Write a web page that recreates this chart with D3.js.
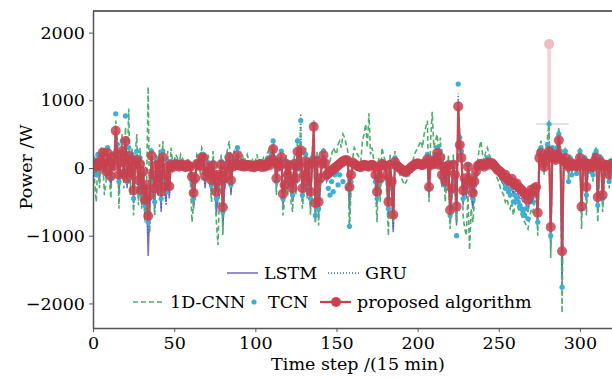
<!DOCTYPE html>
<html>
<head>
<meta charset="utf-8">
<script src="https://cdn.jsdelivr.net/npm/d3@7"></script>
<style>
  body { margin: 0; background: #fff; }
  svg { display: block; font-family: "DejaVu Serif", serif; }
</style>
</head>
<body>
<div class="chart"></div>
<script>
// time steps 0..320 (15 min each)
const proposed = [
  60, 40, 20, 80, 30, 120, 230, 60, -50, 220,
  90, -120, 150, 30, 550, 200, -100, 80, 250, -80,
  400, -150, 180, -60, 100, -330, 50, 120, -180, 60,
  -330, -50, -470, -250, -710, -400, 180, -100, -300, 40,
  -200, 60, -350, 160, -100, -270, 20, -270, 50, 10,
  30, 60, 40, 20, 50, 40, 30, 10, 50, 30,
  20, -130, -370, -150, 60, 40, 30, 150, 150, -120,
  -50, 20, -80, -180, 40, -100, -350, -200, -100, 50,
  -580, -150, -50, 30, 160, -180, 20, 60, 40, 190,
  40, 30, 60, 20, 30, 50, 40, 20, 30, 10,
  20, 50, 30, 60, 10, 40, 20, 50, 80, 40,
  120, 280, 90, -150, 60, 30, 160, -380, -250, 60,
  -100, 30, -200, -300, 60, -150, 240, 30, 260, -300,
  -100, 100, -200, 40, -350, 80, 610, -520, 100, -500,
  -150, 60, 190, 70, -100, -80, -60, -40, -20, 0,
  20, 40, 60, 80, 100, 110, 120, 100, -280, -100,
  80, 60, 40, 30, 20, 10, 30, 50, 40, 30,
  20, 40, 50, 30, -100, -350, 20, -150, 60, 40,
  30, -100, -500, 50, -200, -690, 90, 40, 20, 0,
  -20, -40, -60, -50, -30, -10, 10, 30, 50, 60,
  70, 60, 50, 40, 60, 80, 130, -280, 40, 90,
  60, 120, 220, 50, 160, -100, 20, -200, -50, 40,
  -620, -300, 50, -100, -570, 910, 340, 150, -330, -150,
  -250, 20, -150, -200, -370, -200, -50, 30, 50, 60,
  40, 20, 60, 80, 50, 70, 70, 40, 10, -20,
  -40, -60, -80, -130, -100, -150, -180, -200, -160, -220,
  -250, -230, -280, -300, -320, -350, -380, -400, -470, -380,
  -320, -350, -300, -280, -660, 150, 220, 80, 15, 100,
  200, 250, -870, 180, 150, 120, 200, 410, 150, -1230,
  100, 150, 60, 20, 80, 30, 50, 40, 20, 60,
  150, -570, 30, 80, -280, 60, 20, 40, 10, 100,
  150, -430, 40, 80, -400, 20, 50, 30, -100, 60, 20
];

const lstm = [
  80, 20, -100, 60, -200, 150, 200, 50, -150, 180,
  50, -300, 100, -50, 500, 250, -350, 30, 300, -200,
  350, -300, 100, -150, 50, -500, 0, 100, -450, 20,
  -550, -200, -700, -400, -1300, -600, 100, -300, -600, -50,
  -400, 30, -650, 100, -300, -500, 0, -450, 20, -50,
  20, 50, 30, -20, 40, 20, 10, -30, 40, 20,
  -50, -300, -600, -250, 30, 20, -50, 120, 100, -300,
  -100, 0, -200, -400, 20, -250, -700, -400, -200, 30,
  -900, -350, -150, 20, 100, -400, -20, 50, 20, 150,
  20, 10, 50, 0, 20, 40, 20, 0, 20, -20,
  0, 40, 10, 50, -20, 30, 0, 40, 60, 20,
  100, 250, 50, -300, 40, -50, 120, -550, -400, 30,
  -250, 0, -350, -500, 40, -300, 200, -50, 300, -500,
  -250, 50, -400, 20, -600, 50, 500, -800, 50, -700,
  -300, 20, 150, 30, -200, -150, -100, -80, -50, -30,
  0, 20, 40, 50, 80, 90, 100, 60, -600, -200,
  50, 40, 20, 10, 0, -10, 20, 40, 30, 20,
  0, 30, 40, 10, -250, -550, 0, -300, 40, 20,
  10, -250, -750, 30, -400, -950, 60, 20, 0, -20,
  -50, -70, -100, -80, -60, -30, 0, 20, 40, 50,
  60, 40, 30, 20, 40, 60, 100, -450, 20, 70,
  40, 100, 200, 20, 120, -250, 0, -350, -150, 20,
  -800, -450, 30, -250, -850, 1000, 300, 100, -550, -300,
  -450, 0, -300, -400, -600, -350, -150, 0, 30, 40,
  20, 0, 40, 60, 30, 50, 50, 20, -20, -50,
  -80, -150, -200, -250, -200, -280, -300, -350, -300, -400,
  -350, -300, -400, -450, -450, -500, -500, -550, -650, -500,
  -450, -500, -400, -350, -800, 100, 250, 50, -50, 80,
  250, 300, -1200, 150, 100, 80, 180, 450, 100, -1700,
  50, 150, 20, -100, 60, -50, 30, 20, -50, 40,
  120, -700, 0, 60, -500, 40, -50, 20, -80, 80,
  100, -650, 20, 60, -550, -100, 30, 10, -200, 40, 0
];

const gru = [
  40, 100, -50, 120, -100, 200, 280, 20, -100, 250,
  100, -250, 200, 0, 600, 300, -300, 100, 350, -150,
  450, -250, 250, -100, 150, -600, 80, 200, -400, 100,
  -500, -150, -800, -350, -1000, -550, 200, -250, -700, 50,
  -350, 100, -600, 200, -250, -550, 50, -400, 80, 0,
  40, 80, 60, 0, 60, 50, 30, -20, 60, 40,
  0, -250, -550, -300, 80, 50, 0, 200, 180, -250,
  -80, 40, -150, -350, 60, -200, -600, -450, -250, 60,
  -800, -300, -100, 50, 200, -350, 30, 100, 60, 220,
  50, 40, 80, 30, 40, 60, 50, 20, 40, 0,
  30, 60, 40, 80, 0, 50, 20, 60, 100, 50,
  150, 350, 100, -250, 80, 0, 200, -500, -350, 80,
  -200, 50, -300, -450, 80, -250, 350, 0, 800, -450,
  -200, 150, -350, 60, -550, 120, 700, -750, 150, -650,
  -250, 80, 250, 60, -150, -120, -80, -60, -40, -20,
  10, 30, 50, 70, 90, 100, 110, 80, -850, -150,
  60, 50, 30, 20, 10, 0, 30, 60, 50, 40,
  10, 40, 60, 20, -200, -500, 30, -250, 80, 30,
  20, -200, -700, 60, -350, -900, 120, 40, 10, -10,
  -40, -60, -90, -70, -50, -20, 10, 30, 50, 60,
  80, 60, 40, 30, 50, 80, 180, -400, 50, 120,
  80, 150, 300, 60, 200, -200, 30, -300, -100, 60,
  -750, -400, 60, -200, -800, 1100, 400, 200, -500, -250,
  -400, 30, -250, -350, -550, -300, -100, 20, 60, 80,
  50, 30, 80, 100, 60, 80, 90, 60, 20, -20,
  -60, -100, -150, -200, -180, -230, -260, -300, -250, -350,
  -300, -280, -350, -400, -420, -450, -480, -500, -600, -450,
  -400, -450, -350, -300, -750, 200, 300, 100, 0, 150,
  300, 600, -1100, 250, 200, 150, 250, 550, 200, -1600,
  80, 200, 40, -50, 100, 0, 60, 40, -20, 80,
  200, -650, 20, 100, -450, 80, -20, 60, -50, 150,
  200, -600, 60, 100, -500, -50, 60, 40, -150, 80, 30
];

const cnn1d = [
  200, -200, -500, 100, -300, 300, 150, -400, -200, 300,
  -100, -450, 250, 150, 700, 400, -600, 200, 500, -300,
  600, -100, 880, -400, 300, -700, 200, 500, -550, 300,
  -600, 100, -800, -300, 1200, -950, 300, -200, -700, 200,
  -300, 350, -500, 400, -200, -400, 250, -300, 300, 100,
  100, 200, 150, 50, 200, 150, 100, 50, 150, 100,
  -200, -800, -500, -100, 200, 150, -100, 300, 250, -200,
  -50, 200, -100, -500, 250, -300, -800, -1140, -300, 200,
  -1000, -200, 150, 300, 400, -300, 200, 250, 150, 300,
  150, 100, 200, 80, 150, 200, 100, 80, 150, 50,
  100, 200, 80, 150, 50, 150, 100, 200, 250, 100,
  300, 400, 200, -400, 150, 100, 300, -700, -500, 200,
  -400, 100, -500, -650, 200, -400, 450, 100, 600, -600,
  -300, 300, -450, 150, -700, 200, 450, -800, 250, -850,
  -300, 200, 300, 150, -100, 50, 100, 200, 300, 250,
  200, 350, 400, 300, 500, 450, 350, 250, -900, -300,
  150, 300, 250, 200, 150, 100, 400, 500, 650, 300,
  810, 200, 300, 100, -300, -800, 150, -500, 300, 200,
  100, -400, -1000, 200, -300, -800, 250, 150, 50, -100,
  -150, -200, -250, -200, -150, -100, 50, 100, 200, 250,
  300, 350, 400, 300, 500, 600, 700, -500, 400, 830,
  300, 400, 500, 200, 450, -300, 200, -500, -200, 200,
  -900, -500, 200, -300, -800, 800, 500, 300, -700, -900,
  -1000, -400, -1210, -600, -800, -500, -300, 100, 300, 400,
  200, 100, 250, 300, 200, 150, 100, 50, -50, -150,
  -200, -300, -350, -400, -500, -450, -550, -600, -500, -700,
  -550, -500, -600, -650, -700, -750, -800, -850, -900, -750,
  -600, -650, -500, -400, -1000, 300, 400, 200, -100, 250,
  450, 700, -1330, 300, 250, 200, 400, 600, 300, -2140,
  150, 300, 100, -200, 200, -100, 150, 100, -100, 200,
  300, -900, 100, 200, -700, 150, -100, 100, -200, 250,
  300, -800, 100, 200, -650, -200, 100, 50, -300, 150, 50
];

const tcn = [
  150, 100, -100, 200, 0, 200, 250, 50, -50, 300,
  150, -150, 200, 100, 800, 350, -200, 150, 400, -100,
  770, -200, 300, 0, 200, -450, 150, 250, -350, 150,
  -400, -100, -550, -300, -800, -450, 250, -200, -500, 100,
  -250, 150, -450, 250, -150, -350, 100, -300, 100, 50,
  50, 100, 80, 30, 100, 80, 50, 20, 80, 60,
  -100, -200, -450, -200, 100, 80, 50, 200, 200, -150,
  -30, 80, -100, -250, 80, -150, -450, -300, -150, 100,
  -650, -200, -50, 100, 200, -250, 50, 100, 80, 300,
  80, 60, 100, 50, 60, 80, 70, 40, 60, 30,
  50, 80, 60, 100, 30, 70, 40, 80, 150, 80,
  200, 400, 150, -200, 100, 50, 250, -450, -300, 100,
  -150, 80, -250, -400, 100, -200, 400, 50, 700, -400,
  -150, 200, -300, 80, -450, 150, 650, -700, 150, -600,
  -200, 100, 250, 100, -150, -300, -400, -200, -350, -100,
  -50, -250, -100, 50, -200, 100, 130, -300, -860, -200,
  50, 70, 50, 30, 20, 10, 50, 80, 60, 50,
  20, 60, 80, 30, -200, -450, 50, -200, 100, 50,
  30, -150, -600, 80, -300, -700, 150, 50, 20, 0,
  -30, -50, -80, -100, -60, -30, 20, 40, 60, 80,
  100, 80, 60, 50, 80, 100, 200, -300, 80, 150,
  100, 200, 300, 80, 250, -150, 50, -250, -100, 80,
  -700, -350, 80, -200, -1000, 1240, 450, 250, -450, -200,
  -350, 50, -200, -300, -450, -250, -100, 40, 80, 100,
  80, 50, 100, 150, 80, 100, 100, 70, 30, -10,
  -50, -100, -150, -200, -300, -250, -350, -400, -300, -500,
  -400, -450, -500, -550, -600, -650, -700, -600, -750, -500,
  -400, -500, -350, -300, -800, 250, 300, 150, 50, 200,
  350, 650, -1000, 300, 250, 200, 300, 500, 250, -1760,
  100, 250, 80, -200, 150, -100, 100, 60, -80, 100,
  250, -600, 50, 150, -400, 100, -50, 80, -100, 200,
  250, -550, 80, 150, -450, -100, 80, 50, -200, 100, 50
];

// faded spike near step 281 in the source figure
const ghostStep = 281;
const ghostTop = 1830;
const ghostBase = 650;
const ghostSpan = [273, 293];

const xTicks = [0, 50, 100, 150, 200, 250, 300];
const yTicks = [-2000, -1000, 0, 1000, 2000];

const dimensions = {
  width: 612,
  height: 380,
  margin: { left: 93, right: -0.4, top: 11, bottom: 52 }
};

const colors = {
  lstm: "#7a70c4",
  gru: "#3f5fcc",
  cnn: "#4dae6c",
  tcn: "#3cb0d2",
  proposed: "#c9414f"
};

const font = "17.5px 'DejaVu Serif', serif";

const svg = d3.select(".chart").append("svg")
  .attr("width", dimensions.width)
  .attr("height", dimensions.height);

const x = d3.scaleLinear()
  .domain([0, 320])
  .range([dimensions.margin.left, dimensions.width - dimensions.margin.right]);

const y = d3.scaleLinear()
  .domain([-2363, 2319])
  .range([dimensions.height - dimensions.margin.bottom, dimensions.margin.top]);

const line = d3.line()
  .x((d, i) => x(i))
  .y(d => y(d));

svg.append("clipPath").attr("id", "plotClip")
  .append("rect")
  .attr("x", dimensions.margin.left)
  .attr("y", dimensions.margin.top)
  .attr("width", dimensions.width - dimensions.margin.left)
  .attr("height", dimensions.height - dimensions.margin.top - dimensions.margin.bottom);

const plot = svg.append("g").attr("clip-path", "url(#plotClip)");

// ghost spike (drawn faint, behind)
plot.append("line")
  .attr("x1", x(ghostStep)).attr("x2", x(ghostStep))
  .attr("y1", y(ghostBase)).attr("y2", y(ghostTop))
  .attr("stroke", "#f3d3d8").attr("stroke-width", 3.5);
plot.append("circle")
  .attr("cx", x(ghostStep)).attr("cy", y(ghostTop)).attr("r", 5)
  .attr("fill", "#efbcc4");
plot.append("line")
  .attr("x1", x(ghostSpan[0])).attr("x2", x(ghostSpan[1]))
  .attr("y1", y(ghostBase)).attr("y2", y(ghostBase))
  .attr("stroke", "#c4c4c4").attr("stroke-width", 1.2);

plot.append("path").attr("d", line(lstm))
  .attr("fill", "none").attr("stroke", colors.lstm).attr("stroke-width", 1.5);

plot.append("path").attr("d", line(gru))
  .attr("fill", "none").attr("stroke", colors.gru).attr("stroke-width", 1.5)
  .attr("stroke-dasharray", "1,2");

plot.append("path").attr("d", line(cnn1d))
  .attr("fill", "none").attr("stroke", colors.cnn).attr("stroke-width", 1.6)
  .attr("stroke-dasharray", "5,3");

plot.append("g").selectAll("circle")
  .data(tcn)
  .join("circle")
  .attr("cx", (d, i) => x(i))
  .attr("cy", d => y(d))
  .attr("r", 2.6)
  .attr("fill", colors.tcn);

plot.append("path").attr("d", line(proposed))
  .attr("fill", "none").attr("stroke", colors.proposed).attr("stroke-width", 2.2)
  .attr("stroke-opacity", 0.9);

plot.append("g").selectAll("circle")
  .data(proposed)
  .join("circle")
  .attr("cx", (d, i) => x(i))
  .attr("cy", d => y(d))
  .attr("r", 5)
  .attr("fill", colors.proposed)
  .attr("fill-opacity", 0.85);

// axes
const axisColor = "#555";
const xAxis = svg.append("g")
  .attr("transform", `translate(0,${dimensions.height - dimensions.margin.bottom})`)
  .call(d3.axisBottom(x).tickValues(xTicks).tickSize(4).tickPadding(5).tickSizeOuter(0));
const yAxis = svg.append("g")
  .attr("transform", `translate(${dimensions.margin.left},0)`)
  .call(d3.axisLeft(y).tickValues(yTicks).tickSize(4).tickPadding(4).tickSizeOuter(0)
    .tickFormat(d => d < 0 ? "\u2212" + Math.abs(d) : d));

[xAxis, yAxis].forEach(g => {
  g.select(".domain").attr("stroke", axisColor).attr("stroke-width", 1.5);
  g.selectAll(".tick line").attr("stroke", axisColor).attr("stroke-width", 1);
  g.selectAll(".tick text")
    .style("font", font)
    .attr("fill", "#000");
});

// top spine
svg.append("line")
  .attr("x1", dimensions.margin.left).attr("x2", dimensions.width)
  .attr("y1", dimensions.margin.top).attr("y2", dimensions.margin.top)
  .attr("stroke", "#333").attr("stroke-width", 1.5);

svg.append("text")
  .attr("x", 358).attr("y", 370)
  .attr("text-anchor", "middle")
  .style("font", font)
  .attr("fill", "#000")
  .text("Time step /(15 min)");

svg.append("text")
  .attr("transform", "translate(32,167) rotate(-90)")
  .attr("text-anchor", "middle")
  .style("font", font)
  .attr("fill", "#000")
  .text("Power /W");

// legend
const legendItems = [
  { label: "LSTM", kind: "lstm", lx: 227, ly: 273 },
  { label: "GRU", kind: "gru", lx: 328, ly: 273 },
  { label: "1D-CNN", kind: "cnn", lx: 133, ly: 302 },
  { label: "TCN", kind: "tcn", lx: 239, ly: 302 },
  { label: "proposed algorithm", kind: "proposed", lx: 320, ly: 302 }
];

const legend = svg.append("g")
  .selectAll("g")
  .data(legendItems)
  .join("g")
  .attr("transform", d => `translate(${d.lx},${d.ly})`);

legend.filter(d => d.kind !== "tcn").append("line")
  .attr("x1", 0).attr("x2", 31)
  .attr("stroke", d => colors[d.kind])
  .attr("stroke-width", d => d.kind === "proposed" ? 2.2 : 1.6)
  .attr("stroke-dasharray", d => d.kind === "gru" ? "1,2" : d.kind === "cnn" ? "5,3" : null);

legend.filter(d => d.kind === "tcn" || d.kind === "proposed").append("circle")
  .attr("cx", d => d.kind === "tcn" ? 15 : 16)
  .attr("r", d => d.kind === "tcn" ? 2.6 : 5)
  .attr("fill", d => colors[d.kind]);

legend.append("text")
  .attr("x", d => d.kind === "tcn" ? 29 : 37)
  .attr("dy", "0.35em")
  .style("font", font)
  .attr("fill", "#000")
  .text(d => d.label);
</script>
</body>
</html>
